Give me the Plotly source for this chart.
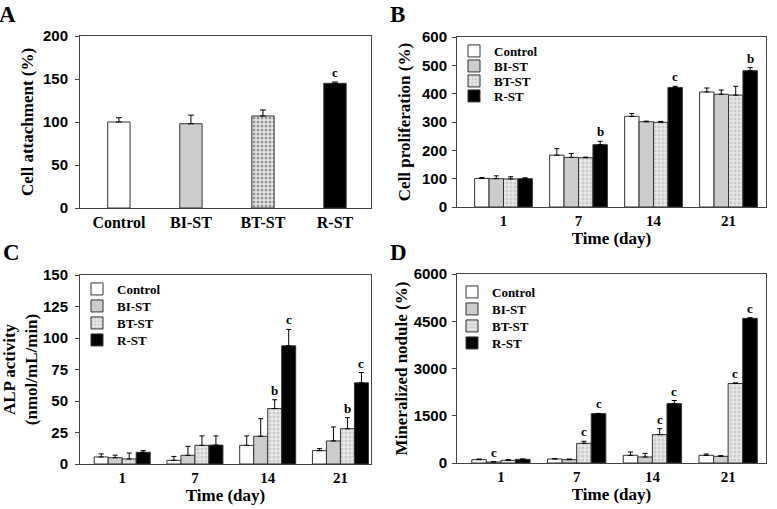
import plotly.graph_objects as go

# ---------------- data ----------------
groups = ["Control", "BI-ST", "BT-ST", "R-ST"]
days = ["1", "7", "14", "21"]

# Panel A: cell attachment (%)
att_vals = [100, 98, 107, 145]
att_err = [5, 10, 7, 1.5]
att_sig = ["", "", "", "c"]

# Panel B: cell proliferation (%)
prolif_control = [101, 183, 320, 406]
prolif_bist = [100, 175, 301, 398]
prolif_btst = [99, 174, 299, 395]
prolif_rst = [100, 220, 422, 481]
prolif_err_control = [3, 23, 10, 14]
prolif_err_bist = [10, 14, 2, 15]
prolif_err_btst = [8, 2, 3, 31]
prolif_err_rst = [3, 12, 4, 11]
prolif_sig_control = ["", "", "", ""]
prolif_sig_bist = ["", "", "", ""]
prolif_sig_btst = ["", "", "", ""]
prolif_sig_rst = ["", "b", "c", "b"]

# Panel C: ALP activity (nmol/mL/min)
alp_control = [5.6, 2.9, 14.8, 10.6]
alp_bist = [5.0, 6.9, 22.0, 18.3]
alp_btst = [4.0, 14.8, 44.0, 28.0]
alp_rst = [9.3, 15.0, 93.8, 64.4]
alp_err_control = [2.4, 3.1, 7.5, 1.6]
alp_err_bist = [2.0, 7.1, 14.0, 11.1]
alp_err_btst = [4.7, 7.5, 7.0, 8.8]
alp_err_rst = [1.3, 7.3, 13.0, 8.2]
alp_sig_control = ["", "", "", ""]
alp_sig_bist = ["", "", "", ""]
alp_sig_btst = ["", "", "b", "b"]
alp_sig_rst = ["", "", "c", "c"]

# Panel D: mineralized nodule (%)
min_control = [106, 127, 244, 244]
min_bist = [32, 106, 191, 212]
min_btst = [85, 625, 901, 2524]
min_rst = [117, 1569, 1887, 4592]
min_err_control = [21, 11, 106, 42]
min_err_bist = [10, 21, 116, 21]
min_err_btst = [21, 65, 191, 21]
min_err_rst = [10, 5, 96, 21]
min_sig_control = ["", "", "", ""]
min_sig_bist = ["c", "", "", ""]
min_sig_btst = ["", "c", "c", "c"]
min_sig_rst = ["", "c", "c", "c"]

# ---------------- styles ----------------
W, H = 777, 509
SERIF = "Liberation Serif"
SANS = "Liberation Sans"
fills = ["#ffffff", "#cccccc", "#e8e8e8", "#000000"]
shapes_pat = ["", "", ".", ""]
pat_fg = ["#ffffff", "#cccccc", "#ababab", "#000000"]
outline = "#333333"
BARGAP = 0.23


def fx(px):
    return px / W


def fy(py):
    return 1 - py / H


def dom_x(a, b):
    return [fx(a), fx(b)]


def dom_y(top, bottom):
    return [fy(bottom), fy(top)]


fig = go.Figure()

# Panel A
fig.add_trace(go.Bar(
    x=groups, y=att_vals, width=0.31,
    marker=dict(color=fills, line=dict(color=outline, width=1),
                pattern=dict(shape=shapes_pat, fgcolor=pat_fg, bgcolor=fills,
                             size=4, solidity=0.45)),
    error_y=dict(type="data", array=att_err, arrayminus=[0] * 4, symmetric=False,
                 color="black", thickness=1, width=3),
    xaxis="x", yaxis="y", showlegend=False))

# legend item centres (page px) per panel: (symbol-centre x, [y per group])
legend_pos = {
    "B": (474, [51, 66, 81, 96]),
    "C": (97, [289, 306, 323, 340]),
    "D": (472, [292, 309, 326, 343]),
}

panels = [
    ("B", "x2", "y2",
     [prolif_control, prolif_bist, prolif_btst, prolif_rst],
     [prolif_err_control, prolif_err_bist, prolif_err_btst, prolif_err_rst],
     [prolif_sig_control, prolif_sig_bist, prolif_sig_btst, prolif_sig_rst]),
    ("C", "x3", "y3",
     [alp_control, alp_bist, alp_btst, alp_rst],
     [alp_err_control, alp_err_bist, alp_err_btst, alp_err_rst],
     [alp_sig_control, alp_sig_bist, alp_sig_btst, alp_sig_rst]),
    ("D", "x4", "y4",
     [min_control, min_bist, min_btst, min_rst],
     [min_err_control, min_err_bist, min_err_btst, min_err_rst],
     [min_sig_control, min_sig_bist, min_sig_btst, min_sig_rst]),
]

sig_font = dict(family=SERIF, size=13, color="black", weight="bold")
annotations = []
for i, (v, e, s) in enumerate(zip(att_vals, att_err, att_sig)):
    if s:
        annotations.append(dict(x=i, y=v + e, xref="x", yref="y", text=s,
                                showarrow=False, yanchor="bottom", yshift=0,
                                font=sig_font))

legend_layouts = {}
legend_common = dict(font=dict(family=SERIF, size=13, color="black", weight="bold"),
                     bgcolor="rgba(0,0,0,0)", xanchor="left", yanchor="middle",
                     itemwidth=30, tracegroupgap=0)
lg_index = 1
bw = (1 - BARGAP) / 4
for pname, xa, ya, vals, errs, sigs in panels:
    sx, sys_ = legend_pos[pname]
    for g in range(4):
        lg_name = "legend" if lg_index == 1 else "legend%d" % lg_index
        legend_layouts[lg_name] = dict(legend_common, x=fx(sx - 20), y=fy(sys_[g]))
        lg_index += 1
        fig.add_trace(go.Bar(
            x=days, y=vals[g], name=groups[g],
            marker=dict(color=fills[g], line=dict(color=outline, width=1),
                        pattern=dict(shape=shapes_pat[g], fgcolor=pat_fg[g],
                                     bgcolor=fills[g], size=4, solidity=0.45)),
            error_y=dict(type="data", array=errs[g], arrayminus=[0] * 4,
                         symmetric=False, color="black", thickness=1, width=2.5),
            xaxis=xa, yaxis=ya, legend=lg_name))
        for i in range(4):
            if sigs[g][i]:
                off = -(1 - BARGAP) / 2 + bw * (g + 0.5)
                annotations.append(dict(x=i + off, y=vals[g][i] + errs[g][i],
                                        xref=xa, yref=ya, text=sigs[g][i],
                                        showarrow=False, yanchor="bottom", yshift=0,
                                        font=sig_font))

# panel letters: left/top of text box in page pixels
for lab, px, py in [("A", -3, 0), ("B", 388, 0), ("C", 1, 238), ("D", 388, 238)]:
    annotations.append(dict(x=fx(px), y=fy(py), xref="paper", yref="paper",
                            text=lab, showarrow=False, xanchor="left", yanchor="top",
                            font=dict(family=SERIF, size=23, color="black", weight="bold")))

axis_common = dict(showline=True, linecolor="#444444", linewidth=1, mirror=True,
                   showgrid=False, zeroline=False)
ytick_font = dict(family=SANS, size=15, color="black", weight="bold")
ytitle_font = dict(family=SERIF, size=17, color="black", weight="bold")
xtitle_font = dict(family=SERIF, size=17, color="black", weight="bold")


def yax(rng, dt, title, anchor, dom, lstand, tstand):
    return dict(axis_common, range=rng, dtick=dt, ticks="outside", ticklen=4,
                tickcolor="#444444", tickfont=ytick_font, anchor=anchor, domain=dom,
                ticklabelstandoff=lstand,
                title=dict(text=title, font=ytitle_font, standoff=tstand))


def xax(anchor, dom, rng, size, title=None):
    d = dict(axis_common, ticks="", ticklen=0, anchor=anchor, domain=dom,
             range=rng, type="category",
             tickfont=dict(family=SERIF, size=size, color="black", weight="bold"))
    if title:
        d["title"] = dict(text=title, font=xtitle_font, standoff=2)
    return d


fig.update_layout(
    width=W, height=H, margin=dict(l=0, r=0, t=0, b=0, autoexpand=False),
    paper_bgcolor="white", plot_bgcolor="white",
    barmode="group", bargap=BARGAP, bargroupgap=0,
    xaxis=xax("y", dom_x(80, 371), [-0.54, 3.5], 16),
    yaxis=yax([0, 200], 50, "Cell attachment (%)", "x", dom_y(36, 208), 4, 5),
    xaxis2=xax("y2", dom_x(457, 766), [-0.62, 3.5], 15, "Time (day)"),
    yaxis2=yax([0, 600], 100, "Cell proliferation (%)", "x2", dom_y(37, 207), 2, 7),
    xaxis3=xax("y3", dom_x(80, 371), [-0.58, 3.42], 15, "Time (day)"),
    yaxis3=yax([0, 150], 25, "ALP activity<br>(nmol/mL/min)", "x3", dom_y(275, 464), 4, 4),
    xaxis4=xax("y4", dom_x(457, 766), [-0.58, 3.5], 15, "Time (day)"),
    yaxis4=yax([0, 6000], 1500, "Mineralized nodule (%)", "x4", dom_y(274, 463), 2, 1),
    annotations=annotations,
    **legend_layouts,
)

fig.write_html("out.html", config={"displayModeBar": False},
               post_script="document.body.style.margin='0px';document.body.style.overflow='hidden';")
